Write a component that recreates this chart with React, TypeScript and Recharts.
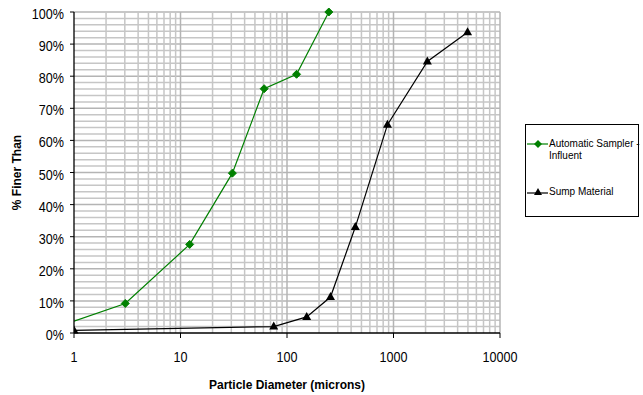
import React from 'react';
import { LineChart, Line, XAxis, YAxis, ReferenceLine, Label } from 'recharts';

const samplerX = [1, 3.03, 12.2, 30.7, 61, 123, 247];
const samplerY = [3.7, 9.2, 27.6, 49.8, 76.1, 80.6, 100];
const sumpX = [1, 75, 153, 256, 438, 878, 2080, 4960];
const sumpY = [0.8, 2.0, 5.0, 11.2, 33.0, 64.9, 84.6, 93.7];

const xTicks = [1, 10, 100, 1000, 10000];
const yTicks = [0, 10, 20, 30, 40, 50, 60, 70, 80, 90, 100];
const decades = [1, 10, 100, 1000];
const multipliers = [1, 2, 3, 4, 5, 6, 7, 8, 9];
const xGrid = [...decades.flatMap((d) => multipliers.map((m) => d * m)), 10000].filter((v) => v > 1);
const yGrid = Array.from({ length: 50 }, (_, i) => (i + 1) * 2);

const samplerData = samplerX.map((x, i) => ({ x, y: samplerY[i] }));
const sumpData = sumpX.map((x, i) => ({ x, y: sumpY[i] }));

const FONT = '"Liberation Sans", Arial, sans-serif';
const GREEN = '#008000';

const Diamond = (props: any) => {
  const { cx, cy, index } = props;
  if (index === 0 || cx == null) return <g key={`d${index}`} />;
  return <path key={`d${index}`} d={`M${cx},${cy - 4}L${cx + 4},${cy}L${cx},${cy + 4}L${cx - 4},${cy}Z`} fill={GREEN} stroke={GREEN} strokeWidth={1} />;
};

const Triangle = (props: any) => {
  const { cx, cy, index } = props;
  if (cx == null) return <g key={`t${index}`} />;
  return <path key={`t${index}`} d={`M${cx},${cy - 5}L${cx + 4.5},${cy + 3}L${cx - 4.5},${cy + 3}Z`} fill="#000" />;
};

const XTick = (props: any) => {
  const { x, y, payload } = props;
  return (
    <text x={0} y={0} transform={`translate(${x},${y + 10}) scale(0.9,1)`} textAnchor="middle" style={{ fontFamily: FONT, fontSize: 14, fill: '#000' }}>
      {payload.value}
    </text>
  );
};

const YTick = (props: any) => {
  const { x, y, payload } = props;
  return (
    <text x={0} y={0} transform={`translate(${x},${y + 7}) scale(0.9,1)`} textAnchor="end" style={{ fontFamily: FONT, fontSize: 14, fill: '#000' }}>
      {`${payload.value}%`}
    </text>
  );
};

const LegendBox = () => (
  <div style={{ position: 'absolute', left: 525, top: 124, width: 112, height: 91, border: '1px solid #000', background: '#fff', fontFamily: FONT, fontSize: 10, color: '#000', whiteSpace: 'nowrap' }}>
    <svg width={22} height={10} style={{ position: 'absolute', left: 1, top: 14 }}>
      <line x1={0} y1={5} x2={21} y2={5} stroke={GREEN} strokeWidth={1.2} />
      <path d="M11,1L15,5L11,9L7,5Z" fill={GREEN} />
    </svg>
    <div style={{ position: 'absolute', left: 23, top: 13, lineHeight: '12px' }}>
      Automatic Sampler -<br />Influent
    </div>
    <svg width={22} height={10} style={{ position: 'absolute', left: 1, top: 62 }}>
      <line x1={0} y1={6} x2={21} y2={6} stroke="#000" strokeWidth={1.2} />
      <path d="M11,1L15,8L7,8Z" fill="#000" />
    </svg>
    <div style={{ position: 'absolute', left: 23, top: 61, lineHeight: '12px' }}>Sump Material</div>
  </div>
);

export default function App() {
  return (
    <div style={{ position: 'absolute', left: 0, top: 0, width: 643, height: 395, background: '#fff' }}>
      <LineChart width={643} height={395} margin={{ top: 12, right: 143, bottom: 0, left: 0 }}>
        <XAxis
          type="number"
          dataKey="x"
          scale="log"
          domain={[1, 10000]}
          ticks={xTicks}
          allowDataOverflow
          height={62}
          axisLine={{ stroke: '#000', strokeWidth: 1.3 }}
          tickLine={{ stroke: '#000' }}
          tickSize={5}
          tickMargin={14}
          tick={<XTick />}
        >
          <Label value="Particle Diameter (microns)" position="insideBottom" offset={6} style={{ fontFamily: FONT, fontSize: 12, fontWeight: 'bold', fill: '#000' }} />
        </XAxis>
        <YAxis
          type="number"
          dataKey="y"
          domain={[0, 100]}
          ticks={yTicks}
          width={74}
          axisLine={{ stroke: '#000', strokeWidth: 1.3 }}
          tickLine={{ stroke: '#000' }}
          tickSize={4}
          tickMargin={6}
          tick={<YTick />}
        >
          <Label
            content={(p: any) => {
              const vb = p.viewBox || {};
              const cx = 17;
              const cy = vb.y + vb.height / 2;
              return (
                <text x={cx} y={cy} transform={`rotate(-90 ${cx} ${cy})`} textAnchor="middle" dominantBaseline="central" style={{ fontFamily: FONT, fontSize: 12, fontWeight: 'bold', fill: '#000' }}>
                  % Finer Than
                </text>
              );
            }}
          />
        </YAxis>
        {yGrid.map((v) => (
          <ReferenceLine key={`hy${v}`} y={v} stroke={v % 10 === 0 ? '#b4b4b4' : '#c6c6c6'} strokeWidth={1.5} />
        ))}
        {xGrid.map((v) => (
          <ReferenceLine key={`vx${v}`} x={v} stroke={[10, 100, 1000, 10000].includes(v) ? '#b4b4b4' : '#c6c6c6'} strokeWidth={1.5} />
        ))}
        <Line data={samplerData} dataKey="y" name="Automatic Sampler - Influent" stroke={GREEN} strokeWidth={1.2} dot={<Diamond />} isAnimationActive={false} />
        <Line data={sumpData} dataKey="y" name="Sump Material" stroke="#000" strokeWidth={1.2} dot={<Triangle />} isAnimationActive={false} />
      </LineChart>
      <LegendBox />
    </div>
  );
}
